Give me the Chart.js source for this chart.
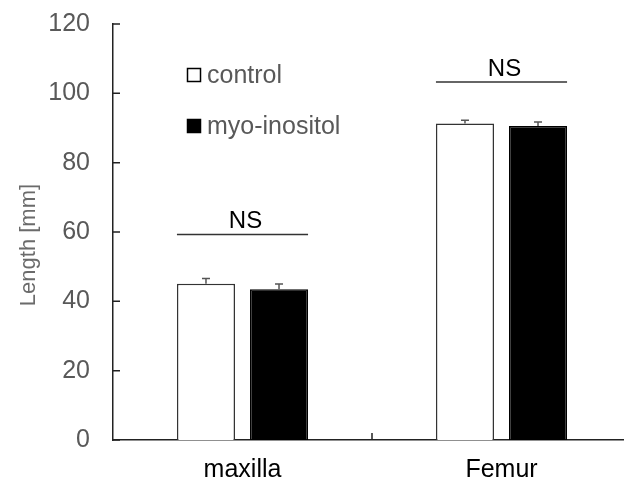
<!DOCTYPE html>
<html>
<head>
<meta charset="utf-8">
<script src="https://cdn.jsdelivr.net/npm/chart.js@4/dist/chart.umd.min.js"></script>
<style>
html, body { margin: 0; padding: 0; background: #fff; overflow: hidden; }
#wrap { width: 640px; height: 483px; }
</style>
</head>
<body>
<div id="wrap"><canvas id="chart" width="640" height="483"></canvas></div>
<script>
const categories = ["maxilla", "Femur"];
const seriesNames = ["control", "myo-inositol"];
const controlValues = [45.1, 91.3];
const myoValues = [43.5, 90.6];
const controlErrors = [1.5, 0.9];
const myoErrors = [1.5, 1.1];
const nsLevels = [59.3, 103.3];
const nsLabels = ["NS", "NS"];
const yTicks = [0, 20, 40, 60, 80, 100, 120];

const FONT = "'Liberation Sans', Arial, sans-serif";
const errors = [controlErrors, myoErrors];

// error bars, only the upper half
const errorBars = {
    id: "errorBars",
    afterDatasetsDraw(chart) {
        const ctx = chart.ctx;
        const y = chart.scales.y;
        ctx.save();
        ctx.strokeStyle = "#555";
        ctx.lineWidth = 1.5;
        chart.data.datasets.forEach((ds, di) => {
            chart.getDatasetMeta(di).data.forEach((bar, i) => {
                const top = y.getPixelForValue(ds.data[i] + errors[di][i]);
                ctx.beginPath();
                ctx.moveTo(bar.x, bar.y);
                ctx.lineTo(bar.x, top);
                ctx.moveTo(bar.x - 4, top);
                ctx.lineTo(bar.x + 4, top);
                ctx.stroke();
            });
        });
        ctx.restore();
    }
};

// NS brackets over each pair of bars
const nsMarks = {
    id: "nsMarks",
    afterDatasetsDraw(chart) {
        const ctx = chart.ctx;
        const y = chart.scales.y;
        const m0 = chart.getDatasetMeta(0).data;
        const m1 = chart.getDatasetMeta(1).data;
        ctx.save();
        nsLevels.forEach((lvl, i) => {
            const left = m0[i].x - m0[i].width / 2;
            const right = m1[i].x + m1[i].width / 2;
            const py = y.getPixelForValue(lvl);
            ctx.strokeStyle = "#333";
            ctx.lineWidth = 1.5;
            ctx.beginPath();
            ctx.moveTo(left, py);
            ctx.lineTo(right, py);
            ctx.stroke();
            ctx.fillStyle = "#000";
            ctx.font = "24px " + FONT;
            ctx.textAlign = "center";
            ctx.textBaseline = "alphabetic";
            ctx.fillText(nsLabels[i], (left + right) / 2 + 3, py - 6);
        });
        ctx.restore();
    }
};

// inward tick marks, legend and y title
const extras = {
    id: "extras",
    afterDraw(chart) {
        const ctx = chart.ctx;
        const ys = chart.scales.y;
        const xs = chart.scales.x;
        const area = chart.chartArea;
        ctx.save();
        ctx.strokeStyle = "#222";
        ctx.lineWidth = 1.5;
        ctx.beginPath();
        yTicks.forEach(t => {
            const py = ys.getPixelForValue(t);
            ctx.moveTo(area.left, py);
            ctx.lineTo(area.left + 7, py);
        });
        for (let i = 0; i < categories.length - 1; i++) {
            const px = (xs.getPixelForValue(i) + xs.getPixelForValue(i + 1)) / 2;
            ctx.moveTo(px, area.bottom);
            ctx.lineTo(px, area.bottom - 7);
        }
        ctx.stroke();

        // legend
        const fills = ["#fff", "#000"];
        const rows = [75, 126];
        ctx.font = "25px " + FONT;
        ctx.textBaseline = "middle";
        ctx.textAlign = "left";
        seriesNames.forEach((name, i) => {
            ctx.fillStyle = fills[i];
            ctx.fillRect(187, rows[i] - 7, 14, 14);
            ctx.strokeStyle = "#000";
            ctx.lineWidth = 1.5;
            ctx.strokeRect(187.5, rows[i] - 6.5, 13, 13);
            ctx.fillStyle = "#595959";
            ctx.fillText(name, 207, rows[i] + 1);
        });

        // y axis title
        ctx.translate(29, 245);
        ctx.rotate(-Math.PI / 2);
        ctx.textAlign = "center";
        ctx.font = "22px " + FONT;
        ctx.fillStyle = "#6b6b6b";
        ctx.fillText("Length [mm]", 0, 0);
        ctx.restore();
    }
};

new Chart(document.getElementById("chart"), {
    type: "bar",
    data: {
        labels: categories,
        datasets: [
            {
                label: seriesNames[0],
                data: controlValues,
                backgroundColor: "#fff",
                borderColor: "#333",
                borderWidth: 1.5
            },
            {
                label: seriesNames[1],
                data: myoValues,
                backgroundColor: "#000",
                borderColor: "#000",
                borderWidth: 1.5
            }
        ]
    },
    options: {
        responsive: false,
        animation: false,
        devicePixelRatio: 1,
        categoryPercentage: 0.564,
        barPercentage: 0.795,
        layout: { padding: { top: 24, right: 9, bottom: 0, left: 0 } },
        plugins: {
            legend: { display: false },
            tooltip: { enabled: false }
        },
        scales: {
            x: {
                grid: { display: false, drawTicks: false },
                border: { display: true, color: "#222", width: 1.5 },
                ticks: { color: "#000", font: { family: FONT, size: 25 }, padding: 15 },
                afterFit(scale) { scale.height = 43; }
            },
            y: {
                min: 0,
                max: 120,
                grid: { display: false, drawTicks: false },
                border: { display: true, color: "#222", width: 1.5 },
                ticks: {
                    stepSize: 20,
                    color: "#595959",
                    font: { family: FONT, size: 25 },
                    padding: 23
                },
                afterFit(scale) {
                    scale.width = 113;
                    scale.paddingTop = 0;
                    scale.paddingBottom = 0;
                }
            }
        }
    },
    plugins: [errorBars, nsMarks, extras]
});
</script>
</body>
</html>
